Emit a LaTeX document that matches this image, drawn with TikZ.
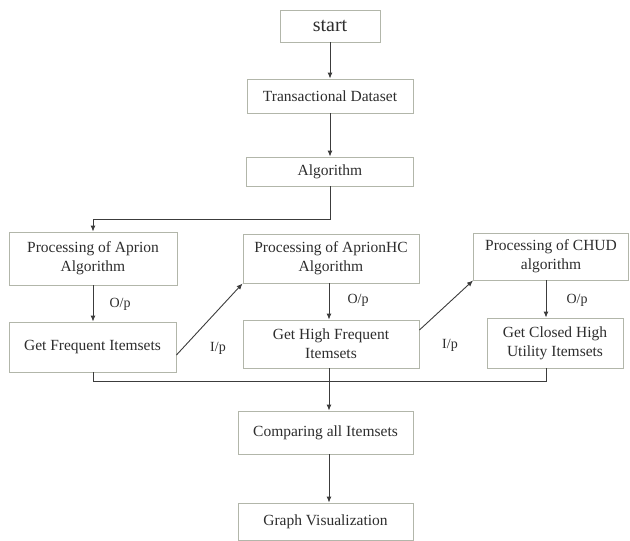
\documentclass[tikz,border=0pt]{standalone}
\usepackage{fontspec}
\setmainfont{Liberation Serif}
\usetikzlibrary{arrows.meta}
\definecolor{boxline}{RGB}{178,182,170}
\definecolor{txt}{RGB}{45,45,45}
\definecolor{conn}{RGB}{60,60,60}
\tikzset{
  box/.style={draw=boxline, line width=0.9pt, text=txt, align=center, inner sep=0pt,
    font=\fontsize{15.5}{19}\selectfont},
  conn/.style={draw=conn, line width=0.9pt},
  arr/.style={conn, -{Latex[length=6pt,width=5pt]}},
  lbl/.style={text=txt, font=\fontsize{14}{16}\selectfont, inner sep=0pt}
}
\begin{document}
\begin{tikzpicture}[x=1pt,y=-1pt]
\useasboundingbox (0,0) rectangle (630,541);
% nodes
\node[box, minimum width=100pt, minimum height=32pt, font=\fontsize{20}{22}\selectfont] (start) at (330,26) {start};
\node[box, minimum width=166pt, minimum height=34pt] (td) at (330,96) {Transactional Dataset};
\node[box, minimum width=167pt, minimum height=29pt] (alg) at (330,171.5) {Algorithm};
\node[box, minimum width=168pt, minimum height=53pt] (pa) at (93,258.5) {Processing of Aprion\\Algorithm};
\node[box, minimum width=176pt, minimum height=49pt] (ph) at (331,258.5) {Processing of AprionHC\\Algorithm};
\node[box, minimum width=155pt, minimum height=47pt] (pc) at (551,256.5) {Processing of CHUD\\algorithm};
\node[box, minimum width=167pt, minimum height=50pt] (gf) at (92.5,347) {Get Frequent Itemsets};
\node[box, minimum width=176pt, minimum height=48pt] (gh) at (331,344) {Get High Frequent\\Itemsets};
\node[box, minimum width=136pt, minimum height=50pt] (gc) at (555,343) {Get Closed High\\Utility Itemsets};
\node[box, minimum width=175pt, minimum height=43pt] (cmp) at (325.5,432.5) {Comparing all Itemsets};
\node[box, minimum width=175pt, minimum height=37pt] (gv) at (325.5,521.5) {Graph Visualization};
% labels
\node[lbl] (o1) at (120,304) {O/p};
\node[lbl] (o2) at (358,300) {O/p};
\node[lbl] (o3) at (577,300) {O/p};
\node[lbl] (i1) at (218,348) {I/p};
\node[lbl] (i2) at (450,345) {I/p};
% helper coordinates
\coordinate (j1) at (330,219);
\coordinate (b1) at (93,381);
\coordinate (b2) at (546,381);
\coordinate (bm) at (329,381);
\coordinate (cx) at (546,0);
% connectors
\draw[arr] (start) -- (td);
\draw[arr] (td) -- (alg);
\draw[arr] (alg.south) -- (j1) -| (pa.north);
\draw[arr] (pa.south -| b1) -- (gf.north -| b1);
\draw[arr] (ph.south -| bm) -- (gh.north -| bm);
\draw[arr] (pc.south -| cx) -- (gc.north -| cx);
\draw[arr] ([yshift=-8pt]gf.east) -- (ph.south west);
\draw[arr] ([yshift=14pt]gh.east) -- (pc.south west);
\draw[conn] (gf.south -| b1) -- (b1) -- (b2) -- (gc.south -| b2);
\draw[conn] (gh.south -| bm) -- (bm);
\draw[arr] (bm) -- (bm |- cmp.north);
\draw[arr] (cmp.south -| bm) -- (gv.north -| bm);
\end{tikzpicture}
\end{document}
